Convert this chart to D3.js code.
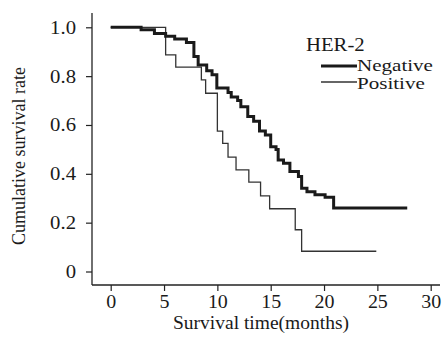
<!DOCTYPE html>
<html><head><meta charset="utf-8">
<script src="https://cdn.jsdelivr.net/npm/d3@7/dist/d3.min.js"></script>
<style>body{margin:0;background:#fff}svg{display:block}text{font-family:"Liberation Serif","Times New Roman",serif;fill:#1a1a1a}</style>
</head><body><svg id="c" width="447" height="339"></svg>
<script>
const xTicks = [0,5,10,15,20,25,30];
const yTicks = [0,0.2,0.4,0.6,0.8,1.0];
const yTickLabels = ["0","0.2","0.4","0.6","0.8","1.0"];
const legendTitle = "HER-2";
const seriesNames = ["Negative","Positive"];
// step points: [time (months), survival]
const negTimes = [0,2.85,4.1,5.15,6.0,7.1,7.8,8.2,9.0,9.5,9.95,11.0,11.3,11.9,12.2,12.85,13.4,13.95,14.5,15.0,15.5,15.7,16.2,16.8,17.6,17.9,18.4,19.15,20.1,20.9,27.8];
const negSurv  = [1.0,0.99,0.975,0.963,0.952,0.938,0.88,0.846,0.822,0.806,0.751,0.733,0.715,0.7,0.675,0.635,0.615,0.575,0.559,0.511,0.5,0.457,0.443,0.409,0.389,0.341,0.327,0.314,0.304,0.26,0.26];
const posTimes = [0,5.15,6.1,8.5,8.9,10.0,10.5,11.0,11.75,12.95,14.05,14.9,17.3,17.9,24.9];
const posSurv  = [1.0,0.887,0.837,0.785,0.73,0.575,0.525,0.468,0.416,0.366,0.31,0.257,0.171,0.083,0.083];

const svg = d3.select("#c");
const x = d3.scaleLinear().domain([0,30]).range([110.7,430.7]);
const y = d3.scaleLinear().domain([0,1]).range([271.5,27.3]);
const axX = 92, axY = 285;

function stretch(sel, f){
  sel.each(function(){
    const w = this.getComputedTextLength();
    d3.select(this).attr("textLength", w*f).attr("lengthAdjust","spacingAndGlyphs");
  });
}

// axis lines
svg.append("line").attr("x1",axX).attr("x2",axX).attr("y1",13).attr("y2",axY).attr("stroke","#222").attr("stroke-width",1.3);
svg.append("line").attr("x1",axX).attr("x2",440).attr("y1",axY).attr("y2",axY).attr("stroke","#222").attr("stroke-width",1.3);

const gy = svg.append("g").attr("transform",`translate(${axX},0)`)
  .call(d3.axisLeft(y).tickValues(yTicks).tickSize(6).tickPadding(10).tickFormat((d,i)=>yTickLabels[i]));
gy.select(".domain").remove();
gy.selectAll("line").attr("stroke","#222").attr("stroke-width",1.2);
gy.selectAll("text").style("font-size","18.5px").attr("fill","#1a1a1a");
stretch(gy.selectAll("text"),1.12);

const gx = svg.append("g").attr("transform",`translate(0,${axY})`)
  .call(d3.axisBottom(x).tickValues(xTicks).tickSize(6).tickPadding(4));
gx.select(".domain").remove();
gx.selectAll("line").attr("stroke","#222").attr("stroke-width",1.2);
gx.selectAll("text").style("font-size","18.5px").attr("fill","#1a1a1a");
stretch(gx.selectAll("text"),1.08);

svg.append("text").attr("x",261).attr("y",329).attr("text-anchor","middle").style("font-size","19.5px").text("Survival time(months)");
svg.append("text").attr("transform","translate(25,156) rotate(-90)").attr("text-anchor","middle").style("font-size","18px").text("Cumulative survival rate");

const line = d3.line().x(d=>x(d[0])).y(d=>y(d[1])).curve(d3.curveStepAfter);
const neg = negTimes.map((t,i)=>[t,negSurv[i]]);
const pos = posTimes.map((t,i)=>[t,posSurv[i]]);
svg.append("path").datum(pos).attr("d",line).attr("fill","none").attr("stroke","#333").attr("stroke-width",1.3);
svg.append("path").datum(neg).attr("d",line).attr("fill","none").attr("stroke","#1a1a1a").attr("stroke-width",3);

// legend
const lt = svg.append("text").attr("x",306).attr("y",51).style("font-size","18.5px").text(legendTitle);
svg.append("line").attr("x1",321).attr("x2",357).attr("y1",66).attr("y2",66).attr("stroke","#1a1a1a").attr("stroke-width",3);
svg.append("line").attr("x1",321).attr("x2",357).attr("y1",82).attr("y2",82).attr("stroke","#333").attr("stroke-width",1.3);
const l1 = svg.append("text").attr("x",357).attr("y",71).style("font-size","16.2px").text(seriesNames[0]);
const l2 = svg.append("text").attr("x",357).attr("y",89).style("font-size","16.2px").text(seriesNames[1]);
stretch(lt,1.12); stretch(l1,1.3); stretch(l2,1.3);
</script></body></html>
